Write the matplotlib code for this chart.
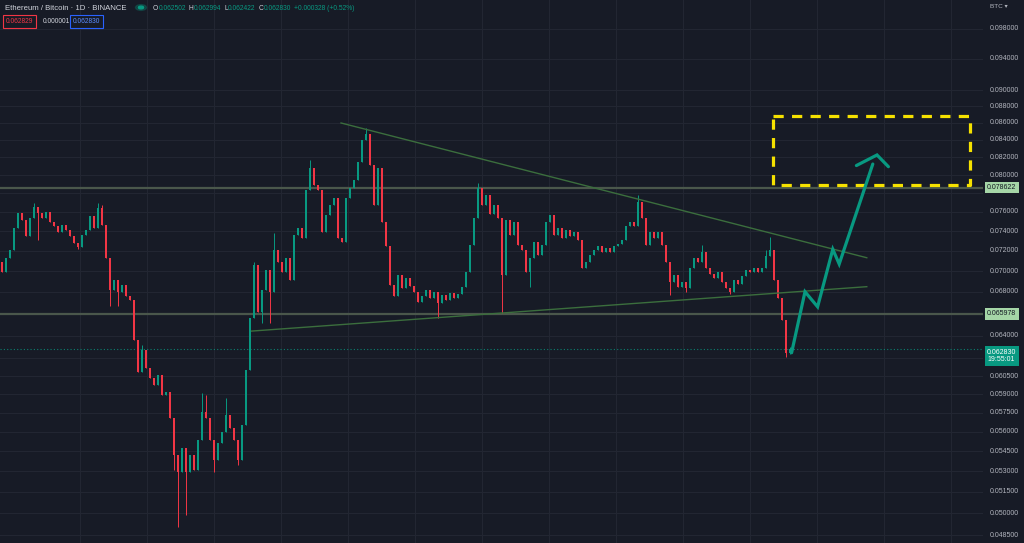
import matplotlib
matplotlib.use("Agg")
import matplotlib.pyplot as plt
from matplotlib.transforms import blended_transform_factory

# ---------------- data ----------------
first_open = 0.07088
closes = [
    0.06991, 0.07128, 0.07208, 0.07432, 0.07588, 0.07515, 0.07350, 0.07536, 0.07652, 0.07588,
    0.07536, 0.07599, 0.07494, 0.07453, 0.07391, 0.07463, 0.07411, 0.07350, 0.07278, 0.07238,
    0.07360, 0.07411, 0.07557, 0.07432, 0.07641, 0.07463, 0.07128, 0.06818, 0.06913, 0.06799,
    0.06866, 0.06762, 0.06724, 0.06360, 0.06083, 0.06272, 0.06117, 0.06033, 0.05975, 0.06058,
    0.05892, 0.05917, 0.05707, 0.05421, 0.05294, 0.05474, 0.05294, 0.05421, 0.05309, 0.05535,
    0.05754, 0.05707, 0.05535, 0.05383, 0.05512, 0.05596, 0.05731, 0.05628, 0.05535, 0.05383,
    0.05651, 0.06100, 0.06557, 0.07059, 0.06613, 0.06818, 0.07010, 0.06799, 0.07208, 0.07088,
    0.06991, 0.07128, 0.06913, 0.07360, 0.07432, 0.07329, 0.07835, 0.08078, 0.07889, 0.07835,
    0.07391, 0.07567, 0.07673, 0.07749, 0.07329, 0.07289, 0.07749, 0.07857, 0.07944, 0.08146,
    0.08399, 0.08469, 0.08112, 0.07673, 0.08078, 0.07494, 0.07248, 0.06866, 0.06762, 0.06962,
    0.06837, 0.06932, 0.06856, 0.06799, 0.06705, 0.06762, 0.06818, 0.06743, 0.06799, 0.06696,
    0.06771, 0.06724, 0.06790, 0.06743, 0.06780, 0.06847, 0.06991, 0.07258, 0.07536, 0.07857,
    0.07673, 0.07781, 0.07578, 0.07673, 0.07536, 0.06962, 0.07515, 0.07360, 0.07494, 0.07258,
    0.07208, 0.06991, 0.07128, 0.07289, 0.07158, 0.07258, 0.07494, 0.07567, 0.07360, 0.07432,
    0.07329, 0.07411, 0.07350, 0.07391, 0.07309, 0.07030, 0.07088, 0.07158, 0.07208, 0.07248,
    0.07188, 0.07228, 0.07188, 0.07248, 0.07268, 0.07309, 0.07453, 0.07494, 0.07453, 0.07705,
    0.07536, 0.07258, 0.07391, 0.07329, 0.07391, 0.07258, 0.07088, 0.06894, 0.06962, 0.06847,
    0.06894, 0.06837, 0.07030, 0.07128, 0.07088, 0.07188, 0.07030, 0.06972, 0.06932, 0.06991,
    0.06894, 0.06837, 0.06799, 0.06913, 0.06875, 0.06952, 0.07010, 0.06991, 0.07030, 0.06991,
    0.07030, 0.07148, 0.07208, 0.06913, 0.06743, 0.06539, 0.062502, 0.062830,
]
wick_highs = {8: 0.07695, 24: 0.07695, 25: 0.07673, 35: 0.06316, 50: 0.05908, 51: 0.05892,
              56: 0.05867, 63: 0.07088, 68: 0.07380, 77: 0.08168, 91: 0.08540, 119: 0.07911,
              159: 0.07781, 175: 0.07258, 191: 0.07208, 192: 0.07340, 197: 0.062994}
wick_lows = {9: 0.07309, 19: 0.07218, 27: 0.06668, 29: 0.06668, 43: 0.05309, 44: 0.04904,
             46: 0.04987, 53: 0.05294, 59: 0.05346, 65: 0.06512, 67: 0.06512, 109: 0.06557,
             125: 0.06603, 132: 0.06847, 167: 0.06771, 171: 0.06799, 182: 0.06780,
             196: 0.06212, 197: 0.062422}

levels = [0.078622, 0.065978]
level_labels = ["0.078622", "0.065978"]
last_price = 0.062830
last_label = "0.062830\n19:55:01"

tick_values = [0.098, 0.094, 0.090, 0.088, 0.086, 0.084, 0.082, 0.080, 0.078, 0.076, 0.074,
               0.072, 0.070, 0.068, 0.066, 0.064, 0.062, 0.0605, 0.059, 0.0575, 0.056, 0.0545,
               0.053, 0.0515, 0.050, 0.0485]
hidden_ticks = [0.078, 0.066, 0.062]

# drawings (index, price)
down_trend = [(84.75, 0.08600), (216.2, 0.07131)]
up_trend = [(62.4, 0.06440), (216.2, 0.06850)]
target_box = [(192.7, 0.07889), (242.0, 0.08684)]
arrow_x = [197.4, 200.75, 203.9, 207.7, 209.3, 217.7]
arrow_y = [0.06249, 0.06802, 0.06661, 0.07215, 0.07069, 0.08123]
head_x = [213.6, 218.75, 221.6]
head_y = [0.08106, 0.08226, 0.08093]

title = "Ethereum / Bitcoin · 1D · BINANCE"
ohlc = [("O", "0.062502"), ("H", "0.062994"), ("L", "0.062422"), ("C", "0.062830")]
change = "+0.000328 (+0.52%)"

# ---------------- style ----------------
BG = "#171b26"
GRID = "#232733"
UP = "#089981"
DN = "#f23645"
TXT = "#b2b5be"
W, H = 1024, 543

fig = plt.figure(figsize=(W / 100, H / 100), dpi=100, facecolor=BG)
ax = fig.add_axes([0, 0, 983 / W, 1])
ax.set_facecolor(BG)
ax.set_yscale("log")
ax.set_ylim(0.04797, 0.10203)
ax.set_xlim(-0.5, 245.25)
for s in ax.spines.values():
    s.set_visible(False)
ax.set_xticks([])
ax.set_yticks([])
ax.minorticks_off()

# grid
for t in tick_values:
    ax.axhline(t, color=GRID, lw=0.7, zorder=0)
for px in [80, 147, 214, 281, 348, 415, 482, 549, 616, 683, 750, 817, 884, 951]:
    ax.axvline((px - 2) / 4, color=GRID, lw=0.7, zorder=0)

# candles
opens = [first_open] + closes[:-1]
for i, (o, c) in enumerate(zip(opens, closes)):
    col = UP if c >= o else DN
    lo_b, hi_b = min(o, c), max(o, c)
    hi = wick_highs.get(i, hi_b)
    lo = wick_lows.get(i, lo_b)
    ax.vlines(i, lo, hi, color=col, lw=0.7, zorder=2)
    ax.bar(i, max(hi_b - lo_b, 0.00002), bottom=lo_b, width=0.62, color=col,
           edgecolor="none", zorder=3)

# level lines
for lv in levels:
    ax.axhline(lv, color="#4a574b", lw=1.6, zorder=1)
ax.axhline(last_price, color=UP, lw=0.8, ls=(0, (1, 2)), alpha=0.8, zorder=1)

# trendlines
for tl in (down_trend, up_trend):
    ax.plot([tl[0][0], tl[1][0]], [tl[0][1], tl[1][1]], color="#3b6e3d", lw=1.0, zorder=4)

# target box
(bx0, by0), (bx1, by1) = target_box
ax.plot([bx0, bx1, bx1, bx0, bx0], [by1, by1, by0, by0, by1], color="#f5e100", lw=2.3,
        ls=(0, (3.2, 2.6)), zorder=5)

# arrow
ax.plot(arrow_x, arrow_y, color=UP, lw=2.3, solid_joinstyle="miter", solid_capstyle="round",
        zorder=6)
ax.plot(head_x, head_y, color=UP, lw=2.3, solid_joinstyle="miter", solid_capstyle="round",
        zorder=6)

# right price scale labels
tr = blended_transform_factory(fig.transFigure, ax.transData)
FONT = ["Liberation Sans", "DejaVu Sans"]
for t in tick_values:
    if t in hidden_ticks:
        continue
    ax.text(990 / W, t, f"{t:.6f}", transform=tr, fontsize=5.0, color=TXT, family=FONT,
            va="center", ha="left", clip_on=False)
for lv, lab in zip(levels, level_labels):
    ax.text(987 / W, lv, lab, transform=tr, fontsize=5.0, color="#131722", family=FONT,
            va="center", ha="left", clip_on=False,
            bbox=dict(boxstyle="square,pad=0.35", fc="#a5d6a7", ec="none"))
ax.text(987 / W, last_price, last_label, transform=tr, fontsize=5.0, color="white",
        family=FONT, va="top", ha="left", clip_on=False, linespacing=1.05,
        bbox=dict(boxstyle="square,pad=0.35", fc=UP, ec="none"))
fig.text(990 / W, 1 - 7 / H, "BTC ▾", fontsize=4.6, color=TXT, family=FONT, va="center")

# header
def fy(y):
    return 1 - y / H

fig.text(5 / W, fy(8), title, fontsize=5.6, color="#d1d4dc", family=FONT, va="center")
fig.patches.append(plt.Circle((141 / W, fy(7.5)), 5.5 / W, transform=fig.transFigure,
                              color=UP, alpha=0.25))
fig.patches.append(plt.Circle((141 / W, fy(7.5)), 2.6 / W, transform=fig.transFigure,
                              color=UP))

renderer = fig.canvas.get_renderer()
xpos = 153.0
pieces = []
for k, v in ohlc:
    pieces.append((k, "#d1d4dc", 0.3))
    pieces.append((v, UP, 2.8))
pieces.append((change, UP, 0))
for txt, col, gap in pieces:
    t = fig.text(xpos / W, fy(8), txt, fontsize=4.75, color=col, family=FONT, va="center")
    w = t.get_window_extent(renderer).width
    xpos += w + gap

fig.text(6 / W, fy(21.5), "0.062829", fontsize=4.8, color=DN, family=FONT, va="center",
         bbox=dict(boxstyle="square,pad=0.45", fc=BG, ec=DN, lw=0.8))
fig.text(43 / W, fy(21.5), "0.000001", fontsize=4.8, color="#d1d4dc", family=FONT,
         va="center")
fig.text(73 / W, fy(21.5), "0.062830", fontsize=4.8, color="#5b8cff", family=FONT,
         va="center", bbox=dict(boxstyle="square,pad=0.45", fc=BG, ec="#2962ff", lw=0.8))

fig.savefig("out.png", dpi=100, facecolor=BG)
